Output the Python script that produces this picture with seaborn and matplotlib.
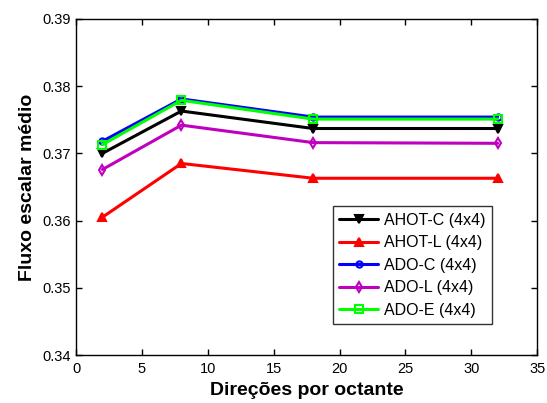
import matplotlib
matplotlib.use("Agg")
import matplotlib.pyplot as plt
import seaborn as sns
import pandas as pd

# Number of directions per octant (x axis)
directions = [2, 8, 18, 32]

# Mean scalar flux for each method
ahot_c = [0.3700, 0.3763, 0.3737, 0.3737]
ahot_l = [0.3605, 0.3685, 0.3663, 0.3663]
ado_c = [0.3718, 0.3781, 0.3754, 0.3754]
ado_l = [0.3676, 0.3742, 0.3716, 0.3715]
ado_e = [0.3713, 0.3779, 0.3751, 0.3751]

labels = ["AHOT-C (4x4)", "AHOT-L (4x4)", "ADO-C (4x4)", "ADO-L (4x4)", "ADO-E (4x4)"]
series = [ahot_c, ahot_l, ado_c, ado_l, ado_e]

colors = ["#000000", "#ff0000", "#0000ff", "#bf00bf", "#00ff00"]
markers = ["v", "^", "o", "d", "s"]
marker_sizes = [6, 6, 4.5, 5.5, 5.5]
filled = [True, True, False, False, False]

sns.set_style("white")
plt.rcParams["font.family"] = ["Liberation Sans", "DejaVu Sans"]
plt.rcParams["text.color"] = "#000000"
plt.rcParams["axes.labelcolor"] = "#000000"

fig = plt.figure(figsize=(5.47, 4.03), dpi=100)
ax = fig.add_axes([0.139, 0.119, 0.843, 0.834])

frames = []
for lab, vals in zip(labels, series):
    frames.append(pd.DataFrame({"dir": directions, "flux": vals, "method": lab}))
df = pd.concat(frames, ignore_index=True)

for lab, col, mk, ms, fl in zip(labels, colors, markers, marker_sizes, filled):
    sub = df[df["method"] == lab]
    sns.lineplot(
        data=sub, x="dir", y="flux", ax=ax, label=lab,
        color=col, linewidth=2.2, marker=mk, markersize=ms,
        markerfacecolor=col if fl else "none", markeredgecolor=col,
        markeredgewidth=1.5,
    )

ax.set_xlim(0, 35)
ax.set_ylim(0.34, 0.39)
ax.set_xticks([0, 5, 10, 15, 20, 25, 30, 35])
ax.set_yticks([0.34, 0.35, 0.36, 0.37, 0.38, 0.39])
ax.set_yticklabels(["0.34", "0.35", "0.36", "0.37", "0.38", "0.39"])
ax.tick_params(direction="in", length=4, width=1, labelsize=10.5,
               top=True, right=True, bottom=True, left=True,
               color="#000000", labelcolor="#000000")
ax.tick_params(axis="x", pad=5)
for sp in ax.spines.values():
    sp.set_color("#000000")
    sp.set_linewidth(1.0)

ax.set_xlabel("Direções por octante", fontsize=14, fontweight="bold", labelpad=4)
ax.set_ylabel("Fluxo escalar médio", fontsize=14, fontweight="bold", labelpad=5)

leg = ax.legend(loc="lower right", bbox_to_anchor=(0.902, 0.092), fontsize=11.5,
                frameon=True, fancybox=False, edgecolor="#000000",
                handlelength=2.4, borderpad=0.4, labelspacing=0.47,
                handletextpad=0.4, borderaxespad=0)
leg.get_frame().set_linewidth(1.0)
for t in leg.get_texts():
    t.set_color("#000000")

fig.savefig("out.png", dpi=100)
